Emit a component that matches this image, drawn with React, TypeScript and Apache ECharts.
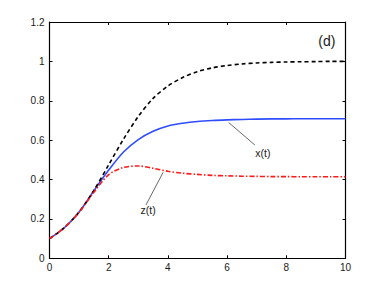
import React, { useEffect, useRef } from "react";
import * as echarts from "echarts";

const times = [0, 0.5, 1, 1.5, 2, 2.5, 3, 3.5, 4, 4.5, 5, 5.5, 6, 6.5, 7, 7.5, 8, 8.5, 9, 9.5, 10];
const blackDashed = [0.1, 0.155, 0.235, 0.345, 0.475, 0.605, 0.72, 0.812, 0.875, 0.918, 0.948, 0.967, 0.979, 0.987, 0.992, 0.995, 0.997, 0.998, 0.999, 1.0, 1.0];
const xSeries = [0.1, 0.155, 0.235, 0.343, 0.448, 0.54, 0.603, 0.645, 0.672, 0.686, 0.695, 0.7, 0.703, 0.705, 0.707, 0.708, 0.708, 0.709, 0.709, 0.709, 0.709];
const zSeries = [0.1, 0.155, 0.234, 0.335, 0.425, 0.461, 0.469, 0.457, 0.442, 0.432, 0.426, 0.421, 0.419, 0.417, 0.416, 0.415, 0.415, 0.414, 0.414, 0.414, 0.414];
const yTicks = [0, 0.2, 0.4, 0.6, 0.8, 1, 1.2];

const xArrow = [[6.94, 0.575], [6.05, 0.69]];
const zArrow = [[3.26, 0.271], [3.84, 0.437]];
const labels = [
  { text: "x(t)", at: [7.21, 0.535], size: 10.5 },
  { text: "z(t)", at: [3.33, 0.245], size: 10.5 },
  { text: "(d)", at: [9.37, 1.104], size: 14 },
];

const FONT = "Liberation Sans, Arial, Helvetica, sans-serif";

export default function App() {
  const ref = useRef<HTMLDivElement>(null);
  useEffect(() => {
    if (!ref.current) return;
    const chart = echarts.init(ref.current, undefined, { renderer: "svg" });
    const pair = (vals: number[]) => times.map((t, i) => [t, vals[i]]);
    const arrowLine = (pts: number[][]) => ({
      silent: true,
      symbol: ["none", "arrow"],
      symbolSize: [0, 6],
      label: { show: false },
      lineStyle: { color: "#444", width: 0.8, type: "solid" },
      itemStyle: { color: "#444" },
      data: [[{ coord: pts[0] }, { coord: pts[1] }]],
    });
    const axisCommon = {
      type: "value",
      axisLine: { show: true, onZero: false, lineStyle: { color: "#000", width: 1.2 } },
      axisTick: { show: true, inside: true, length: 3, lineStyle: { color: "#000", width: 1 } },
      splitLine: { show: false },
    };
    chart.setOption({
      animation: false,
      backgroundColor: "#fff",
      grid: { left: 49.5, right: 36.5, top: 22, bottom: 32.7, containLabel: false },
      xAxis: [
        {
          ...axisCommon,
          min: 0,
          max: 10,
          interval: 2,
          position: "bottom",
          axisLabel: { color: "#1a1a1a", fontSize: 10, fontFamily: FONT, margin: 4 },
        },
        {
          ...axisCommon,
          min: 0,
          max: 10,
          interval: 2,
          position: "top",
          axisLabel: { show: false },
        },
      ],
      yAxis: [
        {
          ...axisCommon,
          min: 0,
          max: 1.2,
          interval: 0.2,
          position: "left",
          axisLabel: {
            color: "#1a1a1a",
            fontSize: 10,
            fontFamily: FONT,
            margin: 5,
            formatter: (v: number) => {
              const m = yTicks.find((t) => Math.abs(t - v) < 1e-6);
              return m === undefined ? "" : String(m);
            },
          },
        },
        {
          ...axisCommon,
          min: 0,
          max: 1.2,
          interval: 0.2,
          position: "right",
          axisLabel: { show: false },
        },
      ],
      series: [
        {
          type: "line",
          data: pair(blackDashed),
          smooth: 0.3,
          showSymbol: false,
          lineStyle: { color: "#000", width: 1.6, type: [4, 3] },
          z: 3,
        },
        {
          type: "line",
          data: pair(xSeries),
          smooth: 0.3,
          showSymbol: false,
          lineStyle: { color: "#2f4dff", width: 1.6, type: "solid" },
          markLine: arrowLine(xArrow),
          z: 2,
        },
        {
          type: "line",
          data: pair(zSeries),
          smooth: 0.3,
          showSymbol: false,
          lineStyle: { color: "#ff1a1a", width: 1.6, type: [5, 2, 1.5, 2] },
          markLine: arrowLine(zArrow),
          z: 4,
        },
      ],
    });
    const graphics = labels.map((l) => {
      const p = chart.convertToPixel({ gridIndex: 0 }, l.at) as number[];
      return {
        type: "text",
        x: p[0],
        y: p[1],
        style: {
          text: l.text,
          fill: "#1a1a1a",
          font: `${l.size}px ${FONT}`,
          align: "center",
          verticalAlign: "middle",
        },
      };
    });
    chart.setOption({ graphic: graphics });
    return () => chart.dispose();
  }, []);
  return (
    <div
      ref={ref}
      style={{ position: "fixed", left: 0, top: 0, width: 382, height: 291 }}
    />
  );
}
